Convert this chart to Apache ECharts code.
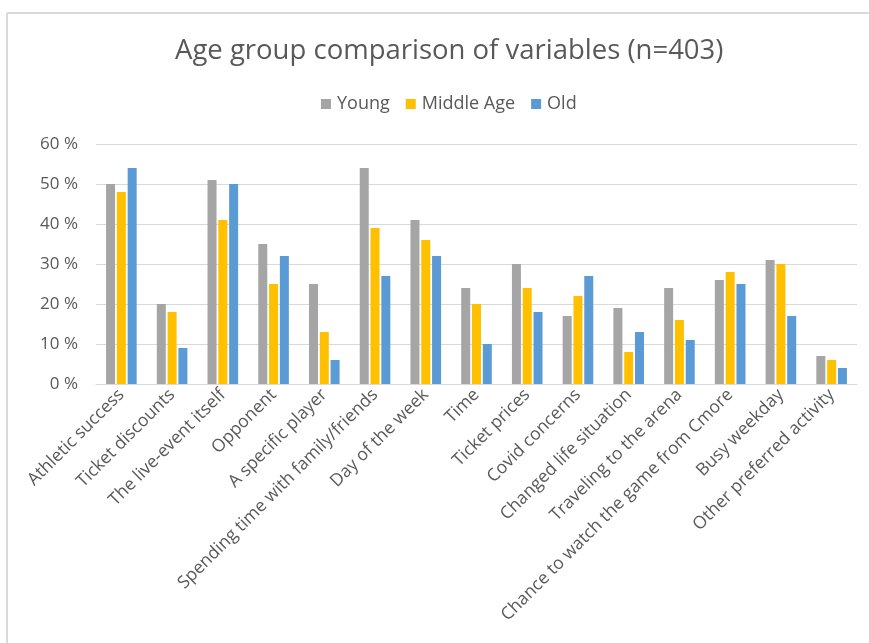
<!DOCTYPE html>
<html>
<head>
<meta charset="utf-8">
<script src="https://cdn.jsdelivr.net/npm/echarts@6/dist/echarts.min.js"></script>
<style>
  html, body { margin: 0; padding: 0; background: #fff; }
  #main { width: 869px; height: 643px; }
</style>
</head>
<body>
<div id="main"></div>
<script>
// categories along the x axis
const categories = [
  "Athletic success", "Ticket discounts", "The live-event itself", "Opponent",
  "A specific player", "Spending time with family/friends", "Day of the week",
  "Time", "Ticket prices", "Covid concerns", "Changed life situation",
  "Traveling to the arena", "Chance to watch the game from Cmore",
  "Busy weekday", "Other preferred activity"
];
// percentages per age group
const young = [50, 20, 51, 35, 25, 54, 41, 24, 30, 17, 19, 24, 26, 31, 7];
const middleAge = [48, 18, 41, 25, 13, 39, 36, 20, 24, 22, 8, 16, 28, 30, 6];
const old = [54, 9, 50, 32, 6, 27, 32, 10, 18, 27, 13, 11, 25, 17, 4];

const textColor = "#595959";
const font = "'Open Sans', sans-serif";

const chart = echarts.init(document.getElementById("main"));

function barSeries(name, data, color) {
  return {
    name: name,
    type: "bar",
    data: data,
    barWidth: 9,
    barGap: "20%",
    itemStyle: { color: color }
  };
}

chart.setOption({
  backgroundColor: "#fff",
  animation: false,
  title: {
    text: "Age group comparison of variables (n=403)",
    left: 170,
    top: 32,
    textStyle: { color: textColor, fontSize: 27.5, fontWeight: "normal", fontFamily: font }
  },
  legend: {
    top: 90,
    left: 316,
    itemWidth: 10,
    itemHeight: 10,
    itemGap: 16,
    icon: "rect",
    textStyle: { color: textColor, fontSize: 18, fontFamily: font, padding: [0, 0, 0, 1] },
    data: ["Young", "Middle Age", "Old"]
  },
  grid: { left: 96, right: 12, top: 144, height: 240 },
  xAxis: {
    type: "category",
    data: categories,
    axisTick: { show: false },
    axisLine: { lineStyle: { color: "#d9d9d9", width: 1 } },
    axisLabel: {
      interval: 0,
      rotate: 45,
      color: textColor,
      fontSize: 17.5,
      fontFamily: font,
      margin: 8
    }
  },
  yAxis: {
    type: "value",
    min: 0,
    max: 60,
    interval: 10,
    axisLine: { show: false },
    axisTick: { show: false },
    splitLine: { lineStyle: { color: "#d9d9d9", width: 1 } },
    axisLabel: {
      formatter: "{value} %",
      color: textColor,
      fontSize: 17,
      fontFamily: font,
      margin: 18
    }
  },
  series: [
    barSeries("Young", young, "#a5a5a5"),
    barSeries("Middle Age", middleAge, "#ffc000"),
    barSeries("Old", old, "#5b9bd5")
  ],
  graphic: [
    { type: "line", shape: { x1: 7, y1: 13, x2: 7, y2: 643 }, style: { stroke: "#d9d9d9", lineWidth: 2 } },
    { type: "line", shape: { x1: 7, y1: 13, x2: 869, y2: 13 }, style: { stroke: "#d9d9d9", lineWidth: 2 } }
  ]
});
</script>
</body>
</html>
